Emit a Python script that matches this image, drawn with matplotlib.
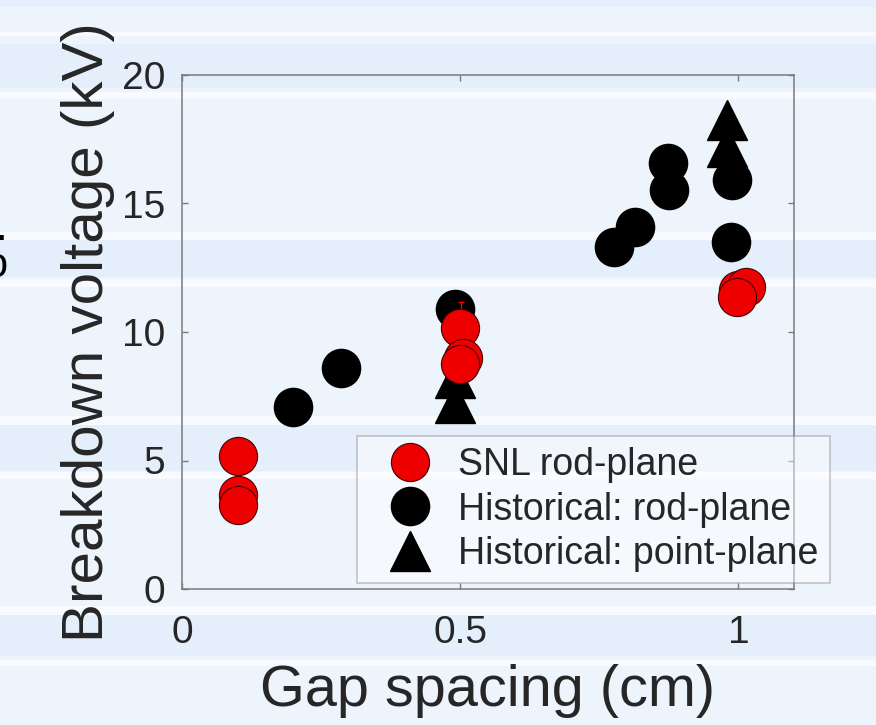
import matplotlib
matplotlib.use('Agg')
import matplotlib.pyplot as plt

plt.rcParams['font.family'] = ['Liberation Sans', 'DejaVu Sans']

# SNL rod-plane measurements (gap in cm, breakdown in kV)
snl_gap = [0.10, 0.10, 0.10, 0.50, 0.505, 0.50, 1.00, 1.013, 0.998]
snl_kv = [5.19, 3.67, 3.28, 10.15, 8.98, 8.75, 11.64, 11.77, 11.38]
snl_err_gap = [0.502]
snl_err_kv = [10.15]
snl_err = [1.0]

# historical rod-plane
rod_gap = [0.20, 0.285, 0.49, 0.777, 0.815, 0.874, 0.876, 0.989, 0.986]
rod_kv = [7.08, 8.60, 10.89, 13.32, 14.10, 16.57, 15.53, 15.92, 13.52]

# historical point-plane
pt_gap = [0.491, 0.491, 0.980, 0.980]
pt_kv = [7.24, 8.21, 17.2, 18.25]

xticks = [0, 0.5, 1]
xticklabels = ['0', '0.5', '1']
yticks = [0, 5, 10, 15, 20]

txt = '#262626'
grey = '#7a7a7a'

fig = plt.figure(figsize=(8.76, 7.25), dpi=100)
fig.patch.set_facecolor('#eef4fc')

# slide background stripes (pixel coords of the figure)
bg = fig.add_axes([0, 0, 1, 1], zorder=-10)
bg.set_xlim(0, 876)
bg.set_ylim(725, 0)
bg.axis('off')
bands = [(0, 7), (44, 88), (240, 277), (425, 471), (615, 656)]
lines = [(32, 36), (92, 99), (232, 240), (279, 287), (416, 425), (472, 479), (606, 615), (660, 666)]
for a, b in bands:
    bg.axhspan(a, b, color='#e4effb', lw=0)
for a, b in lines:
    bg.axhspan(a, b, color='#f7faff', lw=0)

ax = fig.add_axes([182/876, 136/725, 612/876, 514/725])
ax.set_facecolor('none')

ax.plot(rod_gap, rod_kv, 'o', ms=27.5, mfc='black', mec='black', mew=1,
        label='Historical: rod-plane', zorder=3)
ax.plot(pt_gap, pt_kv, '^', ms=29, mfc='black', mec='black', mew=1,
        label='Historical: point-plane', zorder=4)
ax.errorbar(snl_err_gap, snl_err_kv, yerr=snl_err, fmt='none', ecolor='red',
            elinewidth=1, capsize=2.5, zorder=4.5)
ax.plot(snl_gap, snl_kv, 'o', ms=27.5, mfc='#ee0000', mec='#4a0000', mew=0.8,
        label='SNL rod-plane', zorder=5)

ax.set_xlim(0, 1.1)
ax.set_ylim(0, 20)
ax.set_xticks(xticks)
ax.set_xticklabels(xticklabels)
ax.set_yticks(yticks)

for sp in ax.spines.values():
    sp.set_color(grey)
    sp.set_linewidth(1.1)
ax.tick_params(axis='both', direction='in', length=4.5, width=1, color=grey,
               top=True, right=True, labelsize=28, labelcolor=txt)
ax.tick_params(axis='x', pad=19)
ax.tick_params(axis='y', pad=12)

ax.set_xlabel('Gap spacing (cm)', fontsize=41.5, color=txt)
ax.set_ylabel('Breakdown voltage (kV)', fontsize=42, color=txt)
ax.xaxis.set_label_coords(0.5, -0.145)
ax.yaxis.set_label_coords(-0.11, 0.5)

h, l = ax.get_legend_handles_labels()
order = [2, 0, 1]
leg = ax.legend([h[i] for i in order], [l[i] for i in order],
                loc='lower left', bbox_to_anchor=(357/876, 142/725),
                bbox_transform=fig.transFigure, borderaxespad=0,
                fontsize=27, frameon=True, fancybox=False,
                handlelength=2.2, handletextpad=0.2, labelspacing=0.22,
                borderpad=0.3)
leg.get_frame().set_edgecolor(grey)
leg.get_frame().set_linewidth(1.1)
leg.get_frame().set_facecolor('white')
leg.get_frame().set_alpha(0.45)
for t in leg.get_texts():
    t.set_color(txt)
leg.set_zorder(10)

# cut-off slide text at the left edge
fig.text(-4/876, 1 - 277/725, 'o', fontsize=30, color='black', ha='center', va='baseline')
fig.text(1/876, 1 - 240/725, '.', fontsize=30, color='black', ha='center', va='baseline')

fig.savefig('out.png', dpi=100, facecolor=fig.get_facecolor())
